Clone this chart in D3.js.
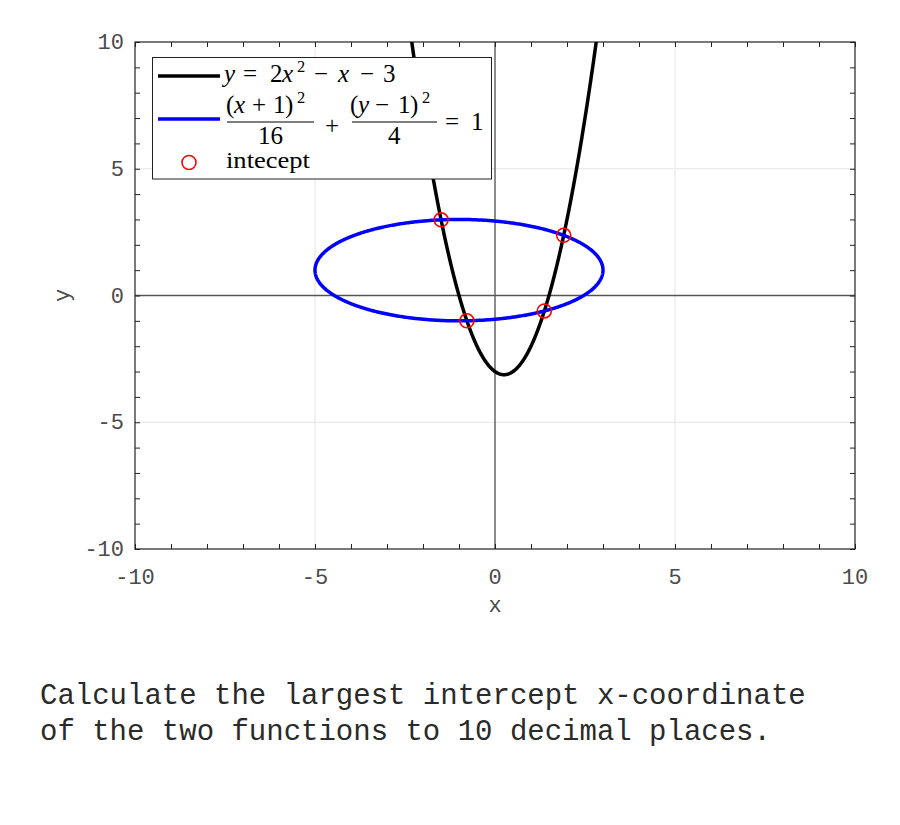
<!DOCTYPE html>
<html><head><meta charset="utf-8">
<script src="https://cdn.jsdelivr.net/npm/d3@7"></script>
<style>body{margin:0;background:#fff}svg{display:block}</style>
</head><body>
<svg id="c" width="900" height="825"></svg>
<script>
// --- data ---
const xDomain = [-10, 10];
const yDomain = [-10, 10];
const majorTicks = [-10, -5, 0, 5, 10];
const minorTicks = d3.range(-10, 11, 1);
const parabolaCoef = [2, -1, -3];          // y = 2x^2 - x - 3
const ellipseCenter = [-1, 1];             // (x+1)^2/16 + (y-1)^2/4 = 1
const ellipseAxes = [4, 2];
const interceptX = [-1.4977, -0.7815, 1.3711, 1.9081];
const interceptY = [2.984, -0.997, -0.611, 2.374];
const caption = ["Calculate the largest intercept x-coordinate", "of the two functions to 10 decimal places."];

const svg = d3.select("#c");
const L = 135, R = 855, T = 42, B = 549;
const x = d3.scaleLinear().domain(xDomain).range([L, R]);
const y = d3.scaleLinear().domain(yDomain).range([B, T]);
const mono = "'Liberation Mono', 'DejaVu Sans Mono', monospace";
const serif = "'Liberation Serif', 'DejaVu Serif', serif";

svg.append("defs").append("clipPath").attr("id", "clip")
  .append("rect").attr("x", L).attr("y", T).attr("width", R - L).attr("height", B - T);

// grid
const g = svg.append("g");
g.selectAll(".gx").data(majorTicks.slice(1, -1)).join("line")
  .attr("x1", d => x(d)).attr("x2", d => x(d)).attr("y1", T).attr("y2", B)
  .attr("stroke", "#e3e3e3").attr("stroke-width", 1);
g.selectAll(".gy").data(majorTicks.slice(1, -1)).join("line")
  .attr("y1", d => y(d)).attr("y2", d => y(d)).attr("x1", L).attr("x2", R)
  .attr("stroke", "#e3e3e3").attr("stroke-width", 1);
// zero axes
g.append("line").attr("x1", x(0)).attr("x2", x(0)).attr("y1", T).attr("y2", B).attr("stroke", "#555").attr("stroke-width", 1.3);
g.append("line").attr("y1", y(0)).attr("y2", y(0)).attr("x1", L).attr("x2", R).attr("stroke", "#555").attr("stroke-width", 1.3);

// axes with inward ticks on all four sides
const tl = 5;
const axB = d3.axisBottom(x).tickValues(minorTicks).tickSizeInner(-tl).tickSizeOuter(0).tickFormat("");
const axT = d3.axisTop(x).tickValues(minorTicks).tickSizeInner(-tl).tickSizeOuter(0).tickFormat("");
const axL = d3.axisLeft(y).tickValues(minorTicks).tickSizeInner(-tl).tickSizeOuter(0).tickFormat("");
const axR = d3.axisRight(y).tickValues(minorTicks).tickSizeInner(-tl).tickSizeOuter(0).tickFormat("");
svg.append("g").attr("transform", `translate(0,${B})`).call(axB);
svg.append("g").attr("transform", `translate(0,${T})`).call(axT);
svg.append("g").attr("transform", `translate(${L},0)`).call(axL);
svg.append("g").attr("transform", `translate(${R},0)`).call(axR);
svg.selectAll(".domain").remove();
svg.selectAll(".tick line").attr("stroke", "#222");
svg.append("rect").attr("x", L).attr("y", T).attr("width", R - L).attr("height", B - T)
  .attr("fill", "none").attr("stroke", "#222").attr("stroke-width", 1.2);

// tick labels
const fmt = d => (d < 0 ? "-" : "") + Math.abs(d);
const tickFont = 22, tickCol = "#4a4a4a";
svg.selectAll(".xl").data(majorTicks).join("text")
  .attr("x", d => x(d)).attr("y", 584).attr("text-anchor", "middle")
  .attr("font-family", mono).attr("font-size", tickFont).attr("fill", tickCol).text(fmt);
svg.selectAll(".yl").data(majorTicks).join("text")
  .attr("x", 124).attr("y", d => y(d) + 7).attr("text-anchor", "end")
  .attr("font-family", mono).attr("font-size", tickFont).attr("fill", tickCol).text(fmt);
svg.append("text").attr("x", x(0)).attr("y", 612).attr("text-anchor", "middle")
  .attr("font-family", mono).attr("font-size", tickFont).attr("fill", tickCol).text("x");
svg.append("text").attr("transform", `translate(69,${y(0)}) rotate(-90)`).attr("text-anchor", "middle")
  .attr("font-family", mono).attr("font-size", tickFont).attr("fill", tickCol).text("y");

// curves
const plot = svg.append("g").attr("clip-path", "url(#clip)");
const xs = d3.range(-3, 3.5, 0.01);
const par = xs.map(v => [v, parabolaCoef[0] * v * v + parabolaCoef[1] * v + parabolaCoef[2]]);
const line = d3.line().x(d => x(d[0])).y(d => y(d[1]));
const ts = d3.range(0, 2 * Math.PI + 0.01, 0.01);
const ell = ts.map(t => [ellipseCenter[0] + ellipseAxes[0] * Math.cos(t), ellipseCenter[1] + ellipseAxes[1] * Math.sin(t)]);
plot.append("path").attr("d", line(par)).attr("fill", "none").attr("stroke", "#000").attr("stroke-width", 3.5);
plot.append("path").attr("d", line(ell)).attr("fill", "none").attr("stroke", "#0000ff").attr("stroke-width", 3.5);
plot.selectAll(".pt").data(interceptX).join("circle")
  .attr("cx", d => x(d)).attr("cy", (d, i) => y(interceptY[i])).attr("r", 7)
  .attr("fill", "none").attr("stroke", "#ff0000").attr("stroke-width", 1.6);

// legend
const lg = svg.append("g");
lg.append("rect").attr("x", 152.5).attr("y", 57.5).attr("width", 339).attr("height", 121.5)
  .attr("fill", "#fff").attr("stroke", "#222").attr("stroke-width", 1);
lg.append("line").attr("x1", 158).attr("x2", 220).attr("y1", 76).attr("y2", 76).attr("stroke", "#000").attr("stroke-width", 3.5);
lg.append("line").attr("x1", 158).attr("x2", 220).attr("y1", 119).attr("y2", 119).attr("stroke", "#0000ff").attr("stroke-width", 3.5);
lg.append("circle").attr("cx", 189).attr("cy", 162.5).attr("r", 7).attr("fill", "none").attr("stroke", "#ff0000").attr("stroke-width", 1.6);

// math tokens placed individually: [text, left x, baseline y, italic, superscript]
const fs = 25;
function tokens(list) {
  list.forEach(([t, tx, ty, it, sup]) => {
    lg.append("text").attr("x", tx).attr("y", ty).attr("font-family", serif)
      .attr("font-size", sup ? fs * 0.66 : fs).attr("font-style", it ? "italic" : "normal")
      .attr("fill", "#000").text(t);
  });
}
tokens([
  ["y", 224, 82, 1], ["=", 243, 82], ["2", 270, 82], ["x", 282, 82, 1], ["2", 297, 72, 0, 1],
  ["−", 314, 82], ["x", 338, 82, 1], ["−", 360, 82], ["3", 383, 82],
  ["(", 226, 113], ["x", 234, 113, 1], ["+", 252, 113], ["1", 273, 113], [")", 285, 113], ["2", 297, 103, 0, 1],
  ["16", 258, 144],
  ["+", 325, 134],
  ["(", 350, 113], ["y", 358, 113, 1], ["−", 375, 113], ["1", 398, 113], [")", 410, 113], ["2", 422, 103, 0, 1],
  ["4", 388, 144],
  ["=", 445, 130], ["1", 471, 130]
]);
lg.append("line").attr("x1", 227).attr("x2", 314).attr("y1", 122).attr("y2", 122).attr("stroke", "#000").attr("stroke-width", 1.1);
lg.append("line").attr("x1", 352).attr("x2", 437).attr("y1", 122).attr("y2", 122).attr("stroke", "#000").attr("stroke-width", 1.1);
lg.append("text").attr("x", 226).attr("y", 168).attr("font-family", serif).attr("font-size", 24)
  .attr("textLength", 84).attr("lengthAdjust", "spacingAndGlyphs").attr("fill", "#000").text("intecept");

// caption
svg.selectAll(".cap").data(caption).join("text")
  .attr("x", 40).attr("y", (d, i) => 704 + i * 36)
  .attr("font-family", mono).attr("font-size", 29).attr("fill", "#2a2a2a").text(d => d);
</script>
</body></html>
